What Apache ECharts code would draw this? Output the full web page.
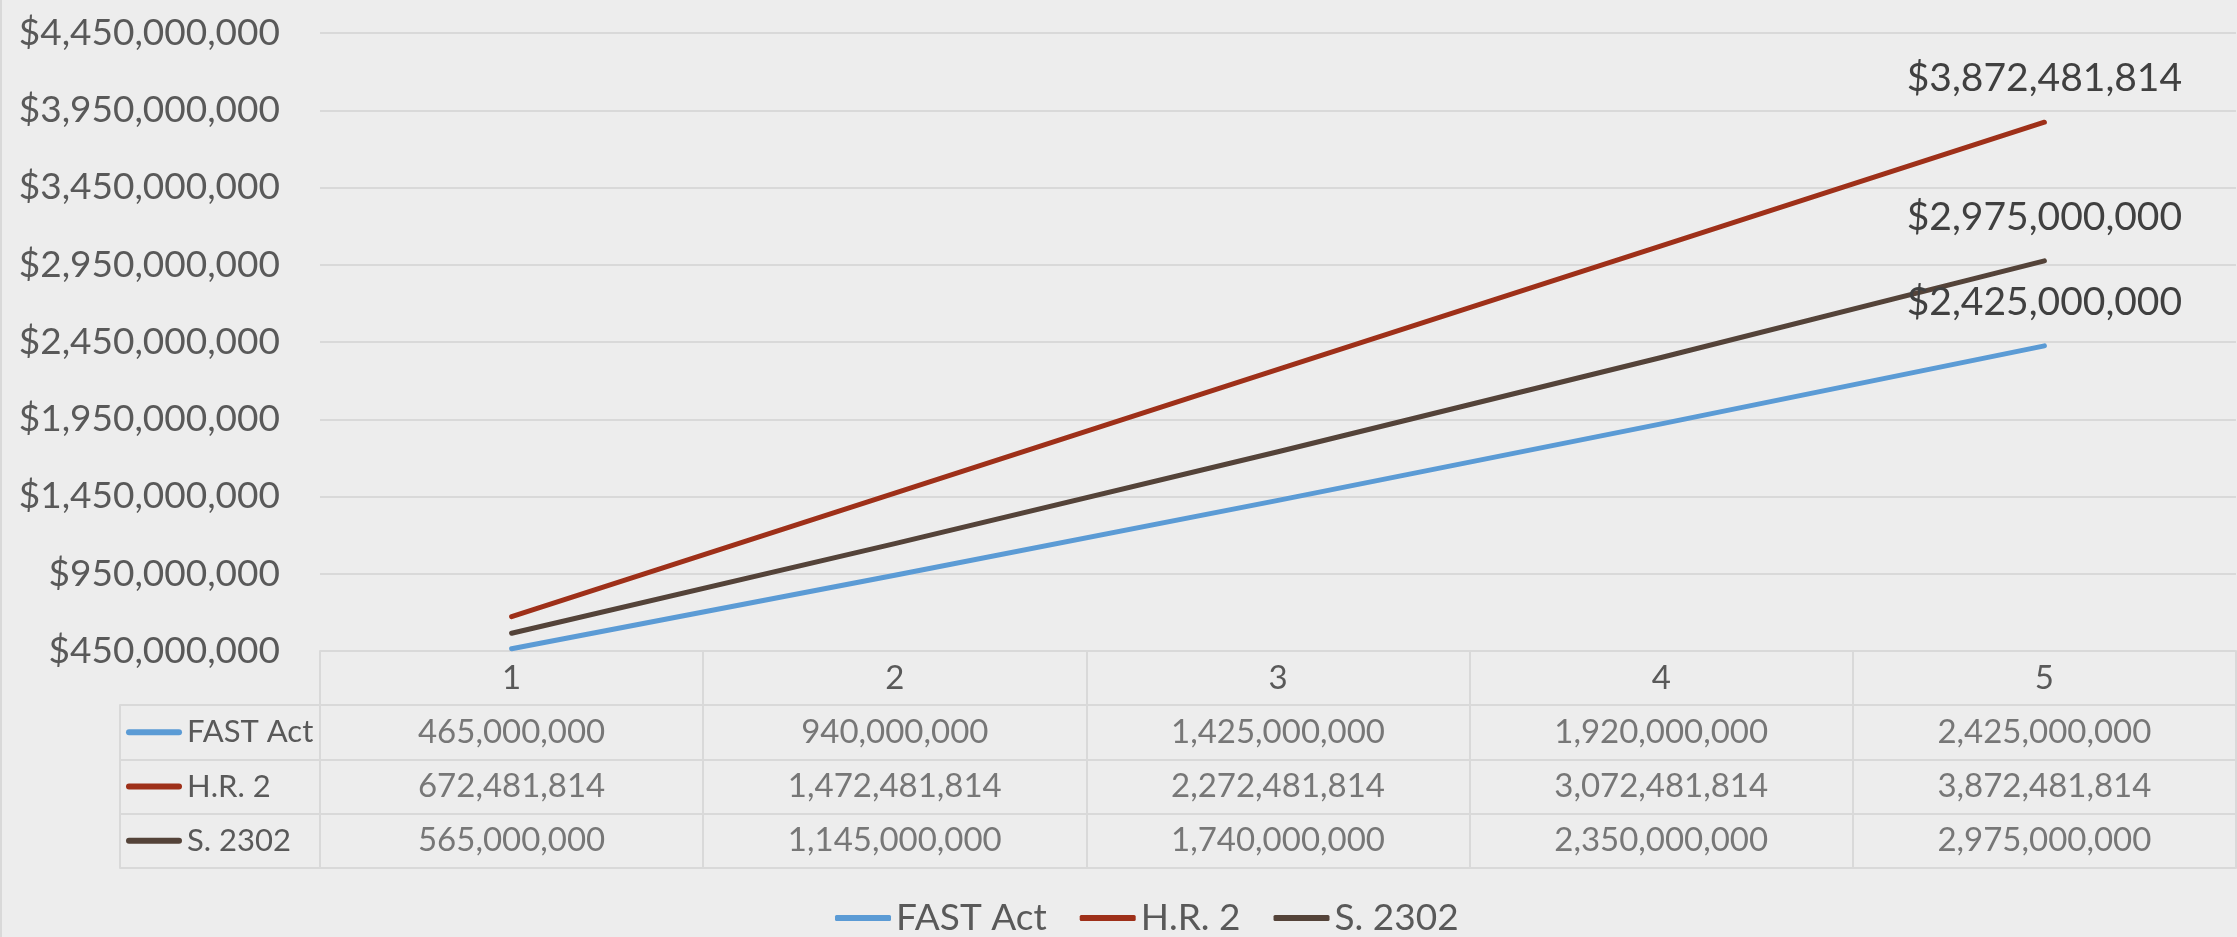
<!DOCTYPE html>
<html><head><meta charset="utf-8">
<script src="https://cdn.jsdelivr.net/npm/echarts@6/dist/echarts.min.js"></script>
<style>
html,body{margin:0;padding:0;background:#EDEDED;}
#c{width:2237px;height:937px;box-shadow:inset 2px 0 0 #D9D9D9;}
</style>
</head><body><div id="c"></div>
<script>
const categories = ['1', '2', '3', '4', '5'];
const seriesNames = ['FAST Act', 'H.R. 2', 'S. 2302'];
const fastAct = [465000000, 940000000, 1425000000, 1920000000, 2425000000];
const hr2 = [672481814, 1472481814, 2272481814, 3072481814, 3872481814];
const s2302 = [565000000, 1145000000, 1740000000, 2350000000, 2975000000];
const yMin = 450000000, yMax = 4450000000, yStep = 500000000;

const colors = ['#5B9BD5', '#9E3019', '#544339'];
const allValues = [fastAct, hr2, s2302];
const fmt = n => Number(n).toLocaleString('en-US');
const gridColor = '#D9D9D9';
const textColor = '#595959';
const FONT = 'Lato';

const chart = echarts.init(document.getElementById('c'), null, {renderer: 'canvas'});

const lineSeries = seriesNames.map((name, i) => ({
  name: name,
  type: 'line',
  xAxisIndex: 0, yAxisIndex: 0,
  data: allValues[i],
  symbol: 'circle',
  symbolSize: 1,
  showSymbol: true,
  itemStyle: {color: colors[i]},
  lineStyle: {color: colors[i], width: 5, cap: 'round', join: 'round'},
  label: {
    show: true,
    position: 'top',
    distance: 23,
    fontFamily: FONT,
    fontSize: 39,
    lineHeight: 40,
    color: '#404040',
    formatter: p => p.dataIndex === allValues[i].length - 1 ? '$' + fmt(p.value) : ''
  },
  emphasis: {disabled: true},
  silent: true,
  z: 3
}));

const tableData = [];
allValues.forEach((arr, i) => arr.forEach((v, j) => tableData.push([j, i, v])));

const rich = {t: {fontFamily: FONT, fontSize: 31, color: textColor, padding: [0, 0, 0, 5]}};
colors.forEach((c, i) => {
  rich['k' + i] = {width: 56, height: 6, backgroundColor: c, borderRadius: 3};
});

const option = {
  backgroundColor: 'transparent',
  animation: false,
  textStyle: {fontFamily: FONT},
  legend: {
    data: seriesNames,
    left: 830,
    top: 893,
    itemWidth: 56,
    itemHeight: 6,
    itemGap: 33,
    icon: 'roundRect',
    textStyle: {fontFamily: FONT, fontSize: 37, lineHeight: 40, color: textColor},
    selectedMode: false
  },
  grid: [
    {left: 320, right: 1, top: 33, height: 618, containLabel: false},
    {left: 320, right: 1, top: 705, height: 163, containLabel: false}
  ],
  xAxis: [
    {
      type: 'category', gridIndex: 0, data: categories, boundaryGap: true,
      axisLine: {show: true, lineStyle: {color: gridColor, width: 2}},
      axisTick: {show: true, inside: false, length: 54, lineStyle: {color: gridColor, width: 2}},
      axisLabel: {fontFamily: FONT, fontSize: 33, color: textColor, margin: 27, verticalAlign: 'middle', lineHeight: 33},
      splitLine: {show: false}
    },
    {
      type: 'category', gridIndex: 1, data: categories, boundaryGap: true,
      axisLine: {show: true, lineStyle: {color: gridColor, width: 2}},
      axisTick: {show: false},
      axisLabel: {show: false},
      splitLine: {show: true, lineStyle: {color: gridColor, width: 2}}
    }
  ],
  yAxis: [
    {
      type: 'value', gridIndex: 0, min: yMin, max: yMax, interval: yStep,
      axisLine: {show: false}, axisTick: {show: false},
      axisLabel: {fontFamily: FONT, fontSize: 37, color: textColor, margin: 40, formatter: v => '$' + fmt(v)},
      splitLine: {show: true, lineStyle: {color: gridColor, width: 2}}
    },
    {
      type: 'category', gridIndex: 1, data: seriesNames, inverse: true, boundaryGap: true,
      axisLine: {show: true, lineStyle: {color: gridColor, width: 2}},
      axisTick: {show: true, inside: false, length: 200, lineStyle: {color: gridColor, width: 2}},
      axisLabel: {
        align: 'left', margin: 194, verticalAlign: 'middle',
        formatter: (v, idx) => '{k' + idx + '|}{t|' + v + '}',
        rich: rich
      },
      splitLine: {show: true, lineStyle: {color: gridColor, width: 2}}
    },
    {
      type: 'category', gridIndex: 1, data: seriesNames, inverse: true, position: 'left', offset: 200,
      axisLine: {show: true, lineStyle: {color: gridColor, width: 2}},
      axisTick: {show: false}, axisLabel: {show: false}, splitLine: {show: false}
    }
  ],
  series: lineSeries.concat([{
    type: 'scatter',
    xAxisIndex: 1, yAxisIndex: 1,
    data: tableData,
    symbolSize: 1,
    itemStyle: {color: 'rgba(0,0,0,0)'},
    label: {
      show: true, position: 'inside',
      fontFamily: FONT, fontSize: 33, color: textColor,
      formatter: p => fmt(p.value[2])
    },
    emphasis: {disabled: true},
    silent: true
  }])
};
chart.setOption(option);
</script>
</body></html>
